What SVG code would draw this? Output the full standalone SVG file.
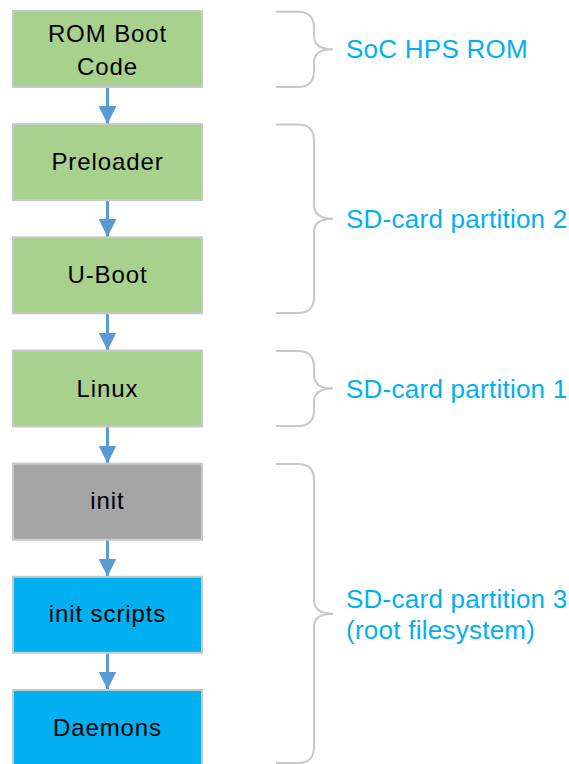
<svg xmlns="http://www.w3.org/2000/svg" width="569" height="764" viewBox="0 0 569 764">
<style>
.box{stroke:#c8c8c8;stroke-width:2}
.g{fill:#a9d18e}.gr{fill:#a5a5a5}.b{fill:#00b0f0}
.t{font-family:"Liberation Sans",Arial,sans-serif;font-size:24px;fill:#000;text-anchor:middle;letter-spacing:0.9px}
.lbl{font-family:"Liberation Sans",Arial,sans-serif;font-size:26px;fill:#00b0f0;letter-spacing:0.25px}
.br{fill:none;stroke:#c8c8c8;stroke-width:2}
.ar{stroke:#5b9bd5;stroke-width:3;fill:none}
</style>
<defs>
<marker id="ah" viewBox="0 0 18 18" refX="18" refY="9" markerWidth="18" markerHeight="18" markerUnits="userSpaceOnUse" orient="auto">
<path d="M0,0 L18,9 L0,18 Z" fill="#5b9bd5"/>
</marker>
</defs>
<g id="connectors">
<line class="ar" x1="107.5" y1="88" x2="107.5" y2="124" marker-end="url(#ah)"/>
<line class="ar" x1="107.5" y1="201" x2="107.5" y2="237" marker-end="url(#ah)"/>
<line class="ar" x1="107.5" y1="314" x2="107.5" y2="350.5" marker-end="url(#ah)"/>
<line class="ar" x1="107.5" y1="427" x2="107.5" y2="463.5" marker-end="url(#ah)"/>
<line class="ar" x1="107.5" y1="540" x2="107.5" y2="576.5" marker-end="url(#ah)"/>
<line class="ar" x1="107.5" y1="653" x2="107.5" y2="689.5" marker-end="url(#ah)"/>
</g>
<g id="rom">
<rect class="box g" x="13" y="11" width="189" height="76"/>
<text class="t" x="107.5" y="42">ROM Boot</text>
<text class="t" x="107.5" y="75">Code</text>
</g>
<g id="preloader">
<rect class="box g" x="13" y="124.2" width="189" height="76"/>
<text class="t" x="107.5" y="169.5">Preloader</text>
</g>
<g id="uboot">
<rect class="box g" x="13" y="237.3" width="189" height="76"/>
<text class="t" x="107.5" y="282.8">U-Boot</text>
</g>
<g id="linux">
<rect class="box g" x="13" y="350.5" width="189" height="76"/>
<text class="t" x="107.5" y="396.5">Linux</text>
</g>
<g id="init">
<rect class="box gr" x="13" y="463.7" width="189" height="76"/>
<text class="t" x="107.5" y="509.2">init</text>
</g>
<g id="initscripts">
<rect class="box b" x="13" y="576.8" width="189" height="76"/>
<text class="t" x="107.5" y="622.3">init scripts</text>
</g>
<g id="daemons">
<rect class="box b" x="13" y="690" width="189" height="76"/>
<text class="t" x="107.5" y="735.5">Daemons</text>
</g>
<g id="brace1">
<path class="br" d="M276,11.7 H298 Q314,11.7 314,27.7 V36 C314,45 320,49.3 333,49.3 C320,49.3 314,53.6 314,62.6 V71 Q314,87 298,87 H276"/>
<text class="lbl" x="346" y="58">SoC HPS ROM</text>
</g>
<g id="brace2">
<path class="br" d="M276,124.5 H298 Q314,124.5 314,140.5 V205 C314,214 320,218.7 333,218.7 C320,218.7 314,223 314,232 V297 Q314,313 298,313 H276"/>
<text class="lbl" x="346" y="228">SD-card partition 2</text>
</g>
<g id="brace3">
<path class="br" d="M276,351 H298 Q314,351 314,367 V375 C314,384 320,388.5 333,388.5 C320,388.5 314,393 314,402 V410 Q314,426 298,426 H276"/>
<text class="lbl" x="346" y="397.5">SD-card partition 1</text>
</g>
<g id="brace4">
<path class="br" d="M276,464 H298 Q314,464 314,480 V600 C314,609 320,613.8 333,613.8 C320,613.8 314,618 314,627 V747 Q314,763 298,763 H276"/>
<text class="lbl" x="346" y="608">SD-card partition 3</text>
<text class="lbl" x="346" y="639">(root filesystem)</text>
</g>
</svg>
